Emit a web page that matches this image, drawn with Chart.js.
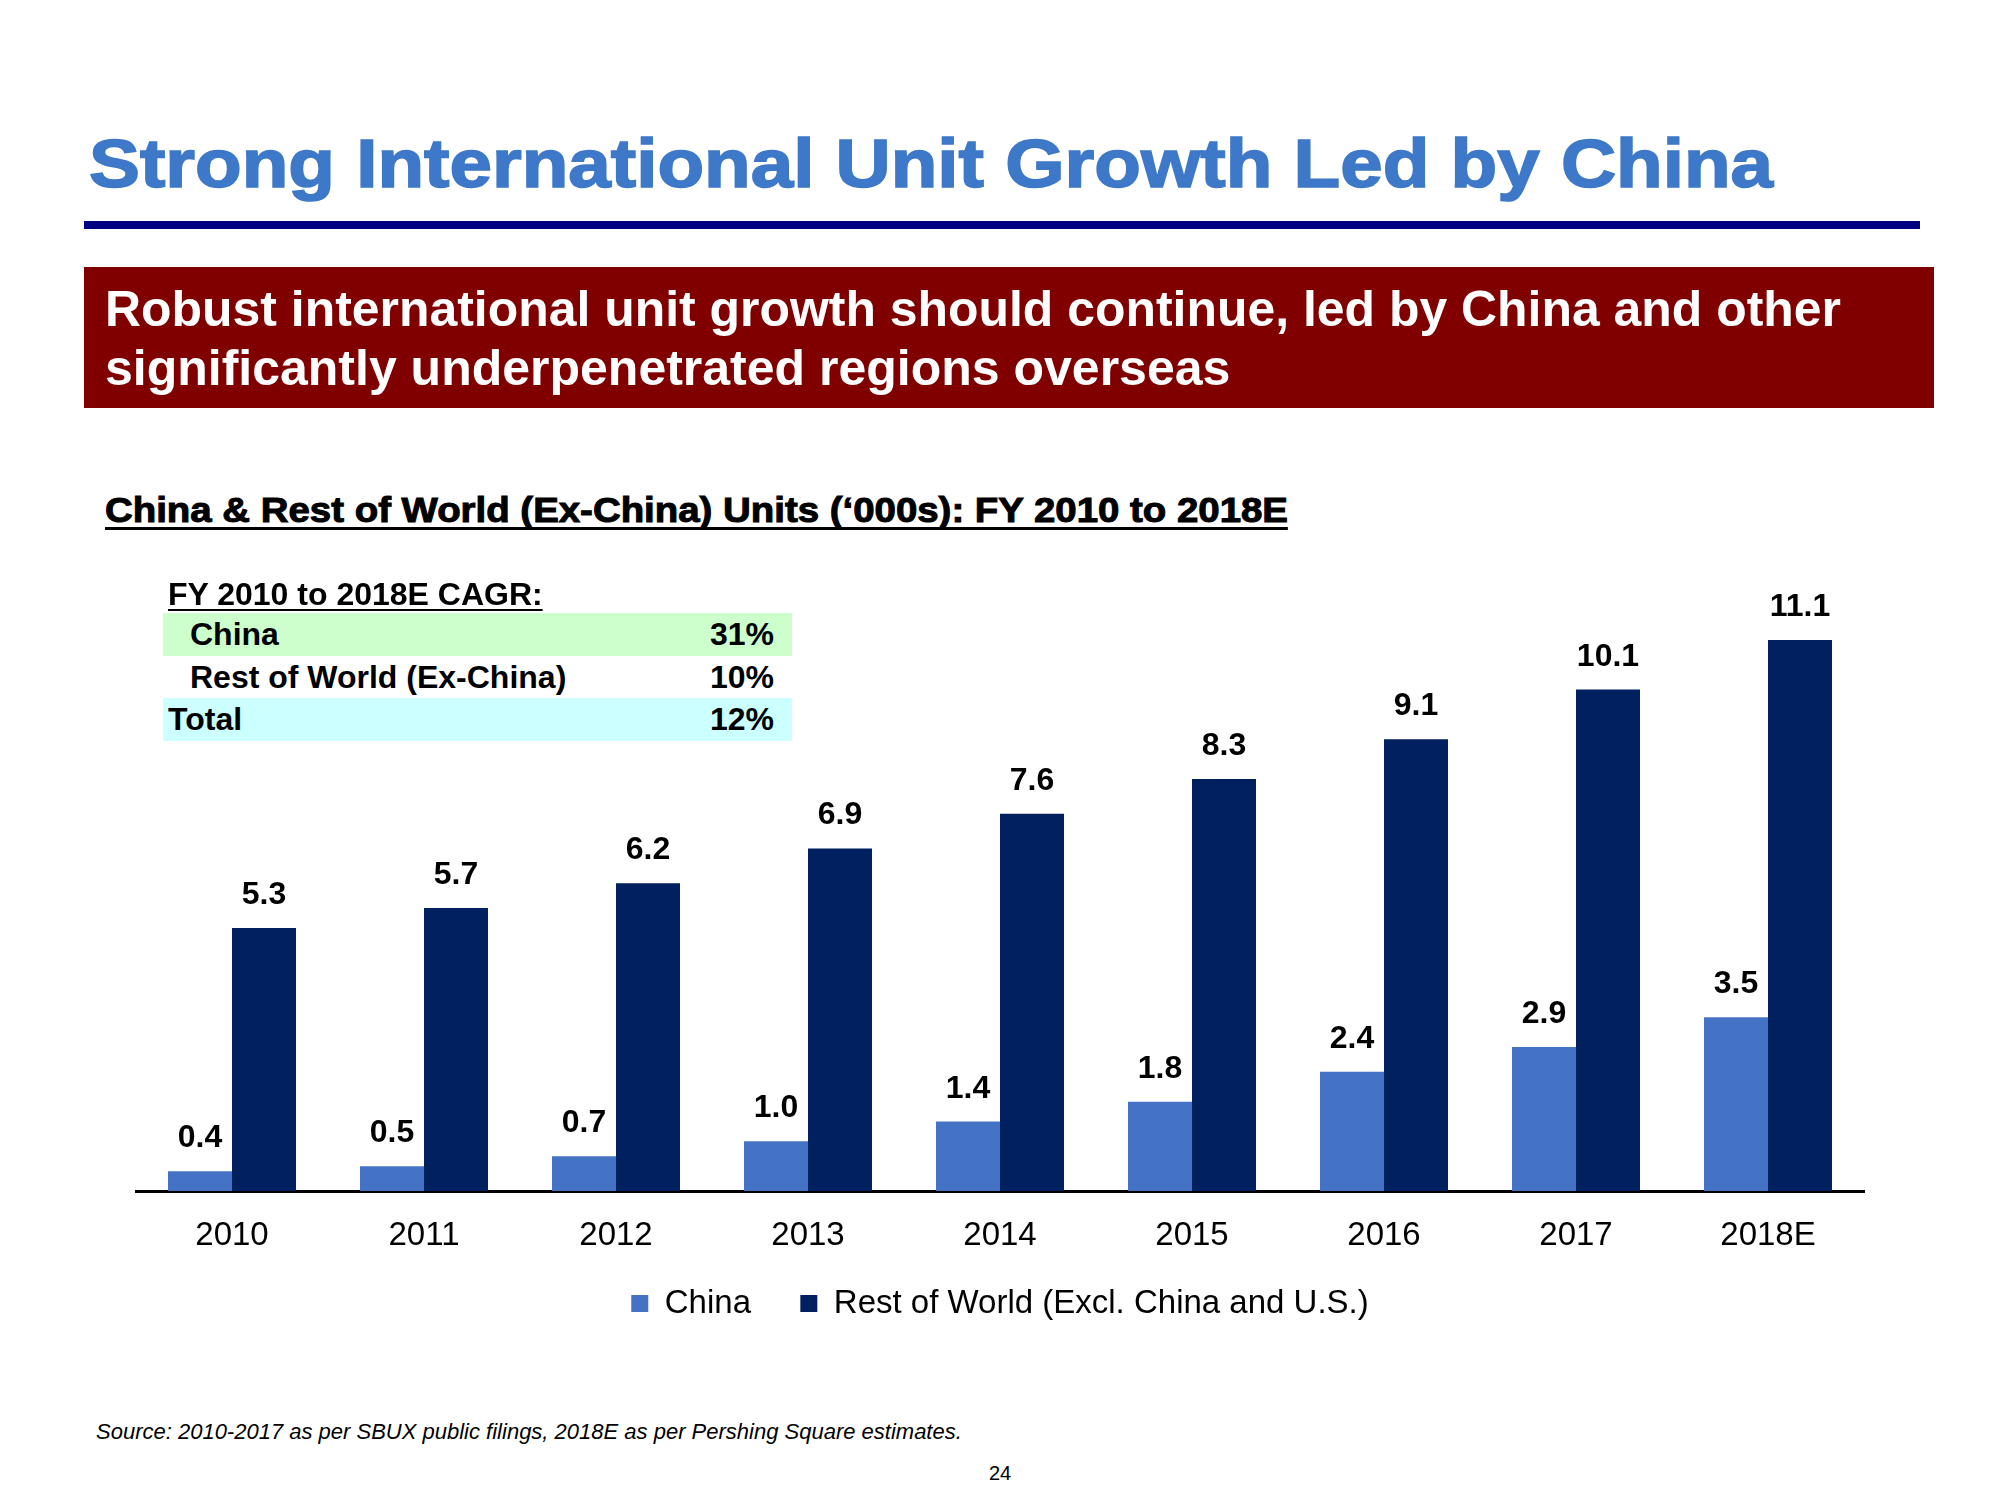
<!DOCTYPE html>
<html>
<head>
<meta charset="utf-8">
<script src="https://cdn.jsdelivr.net/npm/chart.js@4.4.1/dist/chart.umd.min.js"></script>
<style>
  html, body { margin:0; padding:0; background:#fff; }
  body { width:2000px; height:1500px; position:relative; overflow:hidden; font-family:"Liberation Sans", Arial, sans-serif; }
  .abs { position:absolute; white-space:nowrap; }
  .fit { display:inline-block; transform-origin:0 50%; }
  #title { left:89px; top:129px; font-size:68px; line-height:68px; font-weight:bold; color:#3E78C8; -webkit-text-stroke:1.6px #3E78C8; }
  #rule { left:84px; top:221px; width:1836px; height:8px; background:#000080; }
  #banner { left:84px; top:267px; width:1850px; height:141px; background:#800000; }
  .ban { left:105px; font-size:50px; line-height:50px; font-weight:bold; color:#fff; }
  #sub { left:105px; top:492px; font-size:35px; line-height:35px; font-weight:bold; color:#000; }
  #subSpan { -webkit-text-stroke:1px #000; border-bottom:3px solid #000; }
  .row { position:absolute; left:163px; width:629px; height:43px; }
  .tx { font-size:32px; line-height:32px; font-weight:bold; color:#000; }
  #src { left:96px; top:1421px; font-size:22px; line-height:22px; font-style:italic; color:#000; }
  #pg { left:0; width:2000px; text-align:center; top:1463px; font-size:20px; line-height:20px; color:#000; }
  #wrap { position:absolute; left:0; top:540px; width:2000px; height:790px; }
  #tbl { position:absolute; left:0; top:0; z-index:2; }
</style>
</head>
<body>
<div class="abs" id="title"><span class="fit" id="titleSpan">Strong International Unit Growth Led by China</span></div>
<div class="abs" id="rule"></div>
<div class="abs" id="banner"></div>
<div class="abs ban" style="top:284px"><span class="fit" id="ban1">Robust international unit growth should continue, led by China and other</span></div>
<div class="abs ban" style="top:343px">significantly underpenetrated regions overseas</div>
<div class="abs" id="sub"><span class="fit" id="subSpan">China &amp; Rest of World (Ex-China) Units (‘000s): FY 2010 to 2018E</span></div>

<div id="wrap"><canvas id="c" width="2000" height="790"></canvas></div>
<div id="tbl"></div>

<div class="abs" id="src">Source: 2010-2017 as per SBUX public filings, 2018E as per Pershing Square estimates.</div>
<div class="abs" id="pg">24</div>

<script>
// ---- data ----
const years = ['2010','2011','2012','2013','2014','2015','2016','2017','2018E'];
const chinaUnits = [0.4, 0.5, 0.7, 1.0, 1.4, 1.8, 2.4, 2.9, 3.5];
const rowUnits = [5.3, 5.7, 6.2, 6.9, 7.6, 8.3, 9.1, 10.1, 11.1];
const seriesNames = ['China', 'Rest of World (Excl. China and U.S.)'];
const cagrHeader = 'FY 2010 to 2018E CAGR:';
const cagrLabels = ['China', 'Rest of World (Ex-China)', 'Total'];
const cagrValues = ['31%', '10%', '12%'];

// ---- CAGR table (HTML) ----
(function buildTable(){
  const t = document.getElementById('tbl');
  const bg = ['#CCFFCC', '#FFFFFF', '#CCFFFF'];
  const rowTops = [613, 656, 698];
  const labelLeft = [190, 190, 168];
  let h = '<div class="abs tx" style="left:168px;top:578px;text-decoration:underline;text-decoration-thickness:2px;text-underline-offset:4px;">' + cagrHeader + '</div>';
  cagrLabels.forEach((lab, i) => {
    h += '<div class="row" style="top:' + rowTops[i] + 'px;background:' + bg[i] + '"></div>';
    h += '<div class="abs tx" style="left:' + labelLeft[i] + 'px;top:' + (rowTops[i] + 5) + 'px">' + lab + '</div>';
    h += '<div class="abs tx" style="left:163px;width:611px;text-align:right;top:' + (rowTops[i] + 5) + 'px">' + cagrValues[i] + '</div>';
  });
  t.innerHTML = h;
})();

// ---- fit headline widths ----
function fitWidth(id, target){
  const el = document.getElementById(id);
  el.style.transform = 'none';
  const w = el.getBoundingClientRect().width;
  if (w > 0) el.style.transform = 'scaleX(' + (target / w) + ')';
}
function fitAll(){
  fitWidth('titleSpan', 1684);
  fitWidth('subSpan', 1183);
  fitWidth('ban1', 1736);
}
fitAll();
if (document.fonts && document.fonts.ready) document.fonts.ready.then(fitAll);

// ---- chart ----
const labelPlugin = {
  id: 'valueLabels',
  afterDatasetsDraw(chart) {
    const ctx = chart.ctx;
    ctx.save();
    ctx.font = 'bold 32px "Liberation Sans", Arial, sans-serif';
    ctx.fillStyle = '#000';
    ctx.textAlign = 'center';
    ctx.textBaseline = 'alphabetic';
    chart.data.datasets.forEach((ds, di) => {
      const meta = chart.getDatasetMeta(di);
      meta.data.forEach((bar, i) => {
        ctx.fillText(ds.data[i].toFixed(1), bar.x, bar.y - 24);
      });
    });
    ctx.restore();
  }
};

new Chart(document.getElementById('c'), {
  type: 'bar',
  data: {
    labels: years,
    datasets: [
      { label: seriesNames[0], data: chinaUnits, backgroundColor: '#4472C4', borderWidth: 0 },
      { label: seriesNames[1], data: rowUnits, backgroundColor: '#00205F', borderWidth: 0 }
    ]
  },
  options: {
    responsive: false,
    animation: false,
    devicePixelRatio: 1,
    layout: { padding: { left: 136, right: 136, top: 55.3, bottom: 0 } },
    datasets: { bar: { categoryPercentage: 0.6667, barPercentage: 1.0 } },
    scales: {
      x: {
        grid: { display: false, drawTicks: false, tickLength: 0 },
        border: { display: true, color: '#000', width: 3 },
        ticks: { color: '#000', padding: 25, font: { family: '"Liberation Sans", Arial, sans-serif', size: 33 } },
        afterFit(scale) { scale.height = 65; }
      },
      y: { display: false, min: 0, max: 12 }
    },
    plugins: {
      legend: {
        position: 'bottom',
        labels: {
          color: '#000',
          boxWidth: 17, boxHeight: 17, padding: 31,
          font: { family: '"Liberation Sans", Arial, sans-serif', size: 33 },
          generateLabels(chart) {
            const items = Chart.defaults.plugins.legend.labels.generateLabels(chart);
            if (items.length) items[0].text += '\u00A0\u00A0';
            return items;
          }
        }
      },
      tooltip: { enabled: false }
    }
  },
  plugins: [labelPlugin]
});
</script>
</body>
</html>
